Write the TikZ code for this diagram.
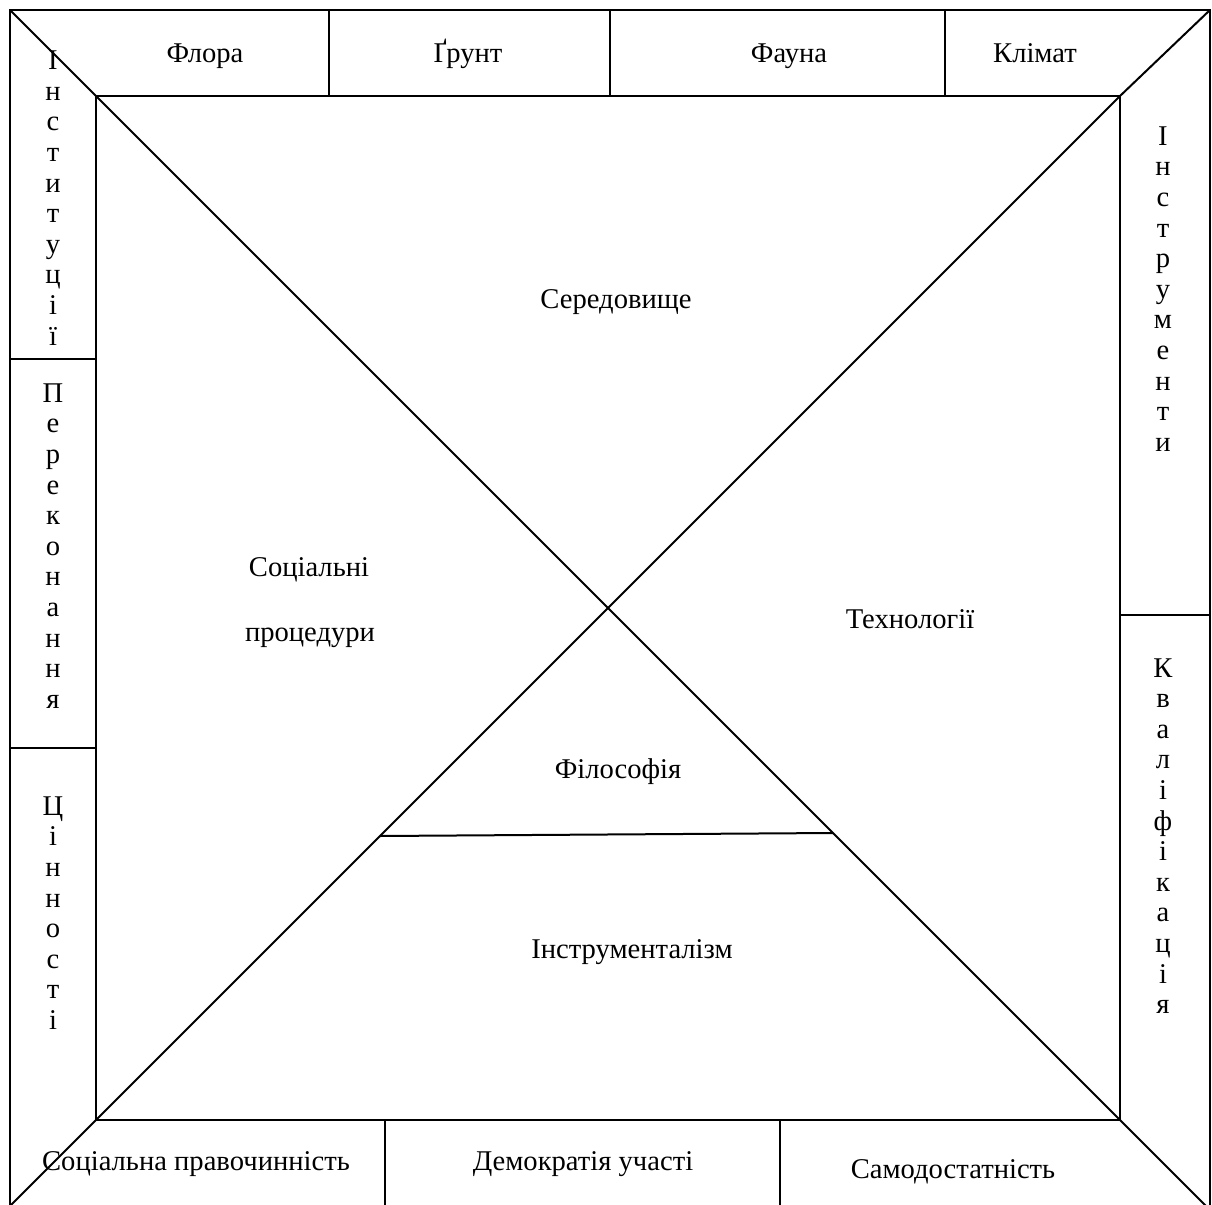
\documentclass[tikz,border=0pt]{standalone}
\usepackage{fontspec}
\setmainfont{Liberation Serif}
\usetikzlibrary{positioning}

\begin{document}
\begin{tikzpicture}[x=0.5pt, y=-0.5pt,
    line/.style={line width=1pt},
    thickline/.style={line width=1.4pt},
    label/.style={font=\fontsize{14.3}{15.3}\selectfont, inner sep=0pt},
    blabel/.style={label, anchor=base},
    vlabel/.style={label, align=center}
]
\useasboundingbox (0,0) rectangle (1212,1205);
\clip (0,0) rectangle (1212,1205);

% corners
\coordinate (otl) at (10,10);
\coordinate (otr) at (1210,10);
\coordinate (obl) at (10,1206);
\coordinate (obr) at (1206,1206);
\coordinate (itl) at (96,96);
\coordinate (itr) at (1120,96);
\coordinate (ibl) at (96,1120);
\coordinate (ibr) at (1120,1120);

% frame and inner square
\draw[line] (10,1210) -- (otl) -- (otr) -- (1210,1210);
\draw[line] (itl) rectangle (ibr);
\draw[line] (otl) -- (itl) -- (ibr) -- (obr);
\draw[line] (otr) -- (itr) -- (ibl) -- (obl);
\draw[line] (380,836) -- (833,833);

% strip dividers
\foreach \x in {329,610,945} \draw[line] (\x,10) -- (\x,96);
\foreach \x in {385,780} \draw[line] (\x,1120) -- (\x,1210);
\draw[line] (10,359) -- (96,359);
\draw[thickline] (10,748) -- (96,748);
\draw[line] (1120,615) -- (1210,615);

% top strip
\node[blabel] (flora) at (205,62) {Флора};
\node[blabel] (grunt) at (468,62) {Ґрунт};
\node[blabel] (fauna) at (789,62) {Фауна};
\node[blabel] (klimat) at (1035,62) {Клімат};

% bottom strip
\node[blabel] (pravo) at (196,1170) {Соціальна правочинність};
\node[blabel] (demo) at (583,1170) {Демократія участі};
\node[blabel] (samo) at (953,1178) {Самодостатність};

% left strip
\node[vlabel] (instytutsii) at (53,198) {І\\н\\с\\т\\и\\т\\у\\ц\\і\\ї};
\node[vlabel] (perekonannia) at (53,546) {П\\е\\р\\е\\к\\о\\н\\а\\н\\н\\я};
\node[vlabel] (tsinnosti) at (53,913) {Ц\\і\\н\\н\\о\\с\\т\\і};

% right strip
\node[vlabel] (instrumenty) at (1163,289) {І\\н\\с\\т\\р\\у\\м\\е\\н\\т\\и};
\node[vlabel] (kvalifikatsiia) at (1163,836) {К\\в\\а\\л\\і\\ф\\і\\к\\а\\ц\\і\\я};

% inner regions
\node[blabel] (seredovyshche) at (616,308) {Середовище};
\node[blabel] (sotsialni) at (309,576) {Соціальні};
\node[blabel] (protsedury) at (310,641) {процедури};
\node[blabel] (tekhnolohii) at (910,628) {Технології};
\node[blabel] (filosofiia) at (618,778) {Філософія};
\node[blabel] (instrumentalizm) at (632,958) {Інструменталізм};

\end{tikzpicture}
\end{document}
